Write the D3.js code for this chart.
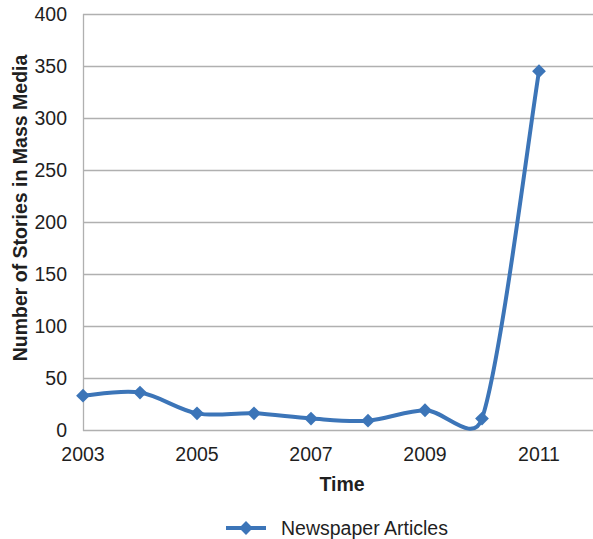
<!DOCTYPE html>
<html>
<head>
<meta charset="utf-8">
<script src="https://cdn.jsdelivr.net/npm/d3@7"></script>
<style>
  html, body { margin: 0; padding: 0; background: #fff; }
  svg { display: block; }
  text { font-family: "Liberation Sans", Arial, sans-serif; fill: #1f1f1f; }
</style>
</head>
<body>
<svg id="chart" width="593" height="539"></svg>
<script>
const years = [2003, 2004, 2005, 2006, 2007, 2008, 2009, 2010, 2011];
const stories = [33, 36, 16, 16, 11, 9, 19, 11, 345];
const yTicks = [0, 50, 100, 150, 200, 250, 300, 350, 400];
const xTicks = [2003, 2005, 2007, 2009, 2011];
const seriesName = "Newspaper Articles";
const xTitle = "Time";
const yTitle = "Number of Stories in Mass Media";

const W = 593, H = 539;
const color = "#3c75b8";
const gridColor = "#b0b0b0";
const svg = d3.select("#chart");

const x = d3.scaleLinear().domain([2003, 2012]).range([83, 596]);
const y = d3.scaleLinear().domain([0, 400]).range([430, 14]);

// gridlines
svg.append("g").selectAll("line").data(yTicks.filter(d => d > 0)).join("line")
  .attr("x1", x(2003)).attr("x2", W)
  .attr("y1", d => y(d) + 0.5).attr("y2", d => y(d) + 0.5)
  .attr("stroke", gridColor).attr("stroke-width", 1.3);

// axes lines
svg.append("line").attr("x1", x(2003) + 0.5).attr("x2", x(2003) + 0.5)
  .attr("y1", y(400)).attr("y2", y(0) + 1)
  .attr("stroke", gridColor).attr("stroke-width", 1.3);
svg.append("line").attr("x1", x(2003)).attr("x2", W)
  .attr("y1", y(0) + 0.5).attr("y2", y(0) + 0.5)
  .attr("stroke", gridColor).attr("stroke-width", 1.3);

// y tick labels
svg.append("g").selectAll("text").data(yTicks).join("text")
  .attr("x", 67).attr("y", d => y(d) + 7)
  .attr("text-anchor", "end").attr("font-size", 19.5)
  .text(d => d);

// x tick labels
svg.append("g").selectAll("text").data(xTicks).join("text")
  .attr("x", d => x(d)).attr("y", 461)
  .attr("text-anchor", "middle").attr("font-size", 19.5)
  .text(d => d);

// axis titles
svg.append("text").attr("x", 342).attr("y", 491)
  .attr("text-anchor", "middle").attr("font-size", 19.5).attr("font-weight", "bold")
  .text(xTitle);
svg.append("text")
  .attr("transform", "translate(27,208) rotate(-90)")
  .attr("text-anchor", "middle").attr("font-size", 19.5).attr("font-weight", "bold")
  .text(yTitle);

// Excel-like smoothed line
const pts = years.map((yr, i) => [x(yr), y(stories[i])]);
function dist(a, b) { return Math.hypot(a[0] - b[0], a[1] - b[1]); }
const p = d3.path();
p.moveTo(pts[0][0], pts[0][1]);
for (let i = 0; i < pts.length - 1; i++) {
  const P0 = pts[Math.max(0, i - 1)], P1 = pts[i], P2 = pts[i + 1], P3 = pts[Math.min(pts.length - 1, i + 2)];
  const d12 = dist(P1, P2);
  let a1 = [(P2[0] - P0[0]) / 6, (P2[1] - P0[1]) / 6];
  let a2 = [(P3[0] - P1[0]) / 6, (P3[1] - P1[1]) / 6];
  const l1 = Math.hypot(a1[0], a1[1]), l2 = Math.hypot(a2[0], a2[1]);
  if (l1 > d12 / 2) { const s = d12 / 2 / l1; a1 = [a1[0] * s, a1[1] * s]; }
  if (l2 > d12 / 2) { const s = d12 / 2 / l2; a2 = [a2[0] * s, a2[1] * s]; }
  p.bezierCurveTo(P1[0] + a1[0], P1[1] + a1[1], P2[0] - a2[0], P2[1] - a2[1], P2[0], P2[1]);
}
svg.append("path").attr("d", p.toString())
  .attr("fill", "none").attr("stroke", color).attr("stroke-width", 4)
  .attr("stroke-linejoin", "round").attr("stroke-linecap", "round");

const diamond = d3.symbol().type(d3.symbolSquare).size(95);
svg.append("g").selectAll("path").data(pts).join("path")
  .attr("d", diamond())
  .attr("transform", d => `translate(${d[0]},${d[1]}) rotate(45)`)
  .attr("fill", color);

// legend
svg.append("line").attr("x1", 226).attr("x2", 266).attr("y1", 528).attr("y2", 528)
  .attr("stroke", color).attr("stroke-width", 4);
svg.append("path").attr("d", diamond())
  .attr("transform", "translate(246,528) rotate(45)").attr("fill", color);
svg.append("text").attr("x", 281).attr("y", 535).attr("font-size", 19.5)
  .text(seriesName);
</script>
</body>
</html>
